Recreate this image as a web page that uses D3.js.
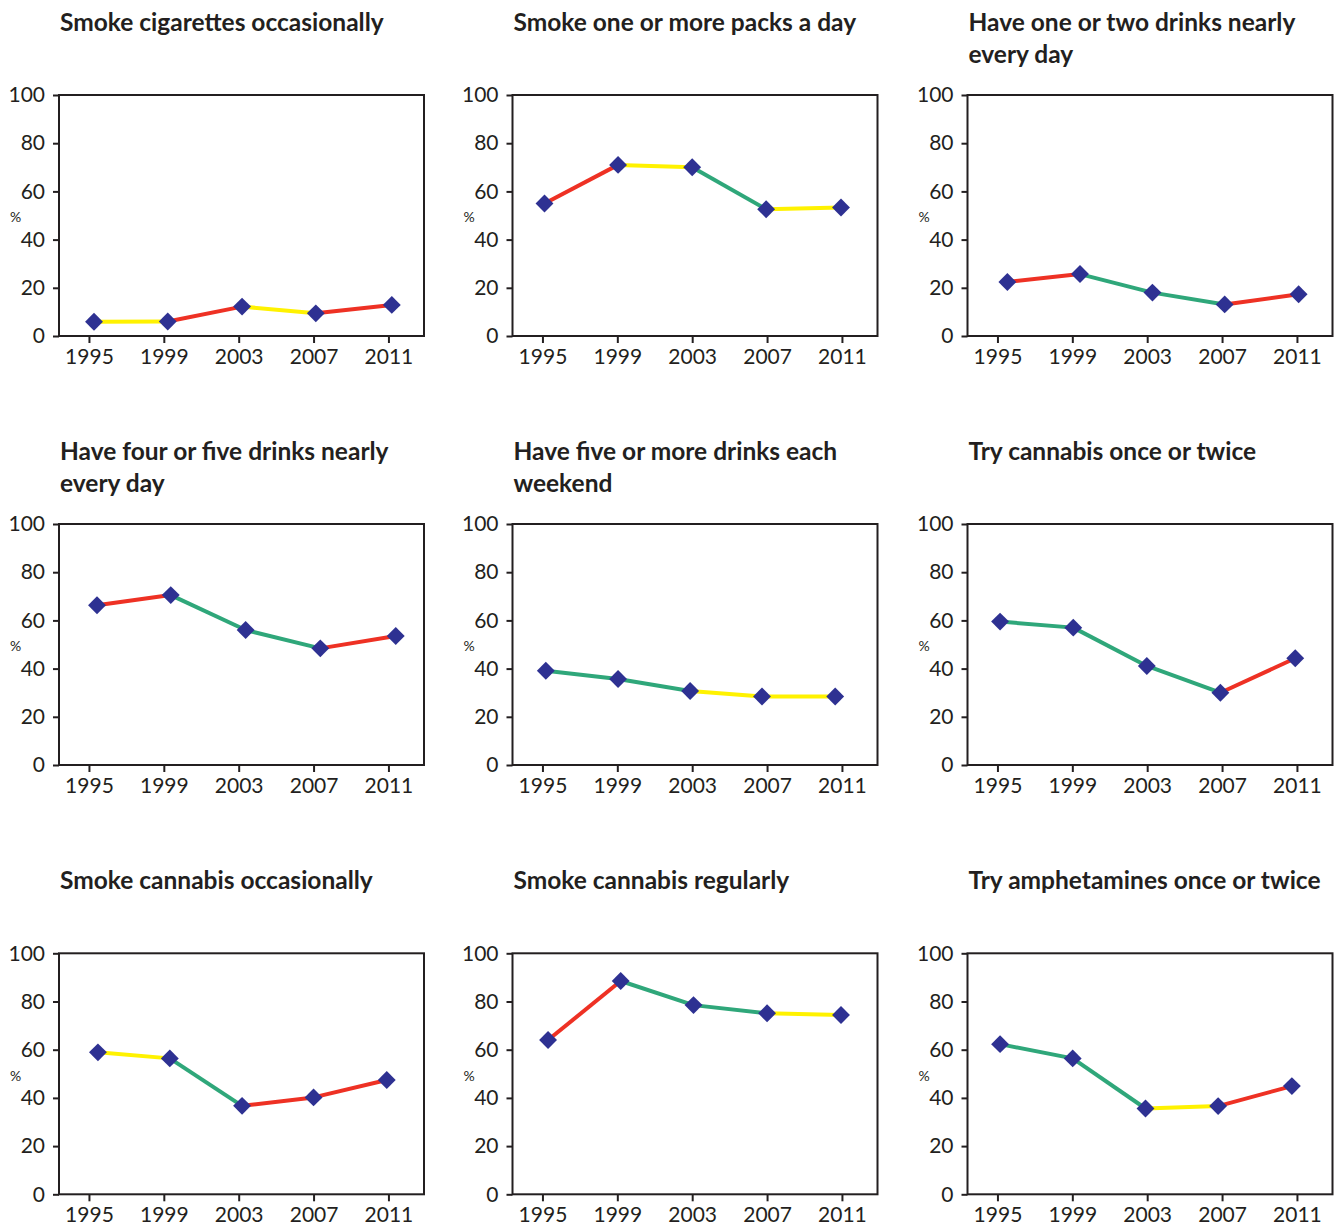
<!DOCTYPE html>
<html><head><meta charset="utf-8">
<script src="https://cdn.jsdelivr.net/npm/d3@7"></script>
<style>body{margin:0;background:#fff}</style>
</head><body><svg id="c" width="1344" height="1224"></svg>
<script>
const years = [1995, 1999, 2003, 2007, 2011];
const yTicks = [0, 20, 40, 60, 80, 100];
const titles = [
  ["Smoke cigarettes occasionally"],
  ["Smoke one or more packs a day"],
  ["Have one or two drinks nearly", "every day"],
  ["Have four or five drinks nearly", "every day"],
  ["Have five or more drinks each", "weekend"],
  ["Try cannabis once or twice"],
  ["Smoke cannabis occasionally"],
  ["Smoke cannabis regularly"],
  ["Try amphetamines once or twice"]
];
const values = [
  [5.9, 6.0, 12.2, 9.4, 12.9],
  [55.0, 71.0, 70.0, 52.6, 53.3],
  [22.4, 25.7, 18.0, 13.1, 17.3],
  [66.3, 70.5, 56.0, 48.4, 53.5],
  [39.1, 35.7, 30.7, 28.4, 28.4],
  [59.5, 57.0, 41.1, 30.0, 44.3],
  [58.9, 56.4, 36.7, 40.2, 47.4],
  [64.0, 88.5, 78.5, 75.1, 74.4],
  [62.3, 56.4, 35.6, 36.6, 44.9]
];
// measured horizontal position of each point, in years
const pointYears = [
  [1995.27, 1999.21, 2003.18, 2007.12, 2011.18],
  [1995.11, 1999.04, 2003.00, 2006.95, 2010.95],
  [1995.53, 1999.41, 2003.28, 2007.14, 2011.09],
  [1995.43, 1999.37, 2003.37, 2007.36, 2011.39],
  [1995.18, 1999.04, 2002.89, 2006.73, 2010.64],
  [1995.14, 1999.05, 2002.98, 2006.91, 2010.91],
  [1995.48, 1999.32, 2003.18, 2007.00, 2010.91],
  [1995.30, 1999.18, 2003.07, 2007.00, 2010.95],
  [1995.14, 1999.02, 2002.91, 2006.79, 2010.73]
];
// r = increase, y = stable, g = decrease
const segmentColors = [
  ["y", "r", "y", "r"],
  ["r", "y", "g", "y"],
  ["r", "g", "g", "r"],
  ["r", "g", "g", "r"],
  ["g", "g", "y", "y"],
  ["g", "g", "g", "r"],
  ["y", "g", "r", "r"],
  ["r", "g", "g", "y"],
  ["g", "g", "y", "r"]
];
const colorMap = {r: "#ee3124", y: "#fff200", g: "#2fa77a"};
const markerColor = "#2e3192";
const textColor = "#231f20";

const svg = d3.select("#c");
const W = 365, H = 241;
const colX = [59, 512.5, 967.5];
const rowY = [95, 524, 953.3];
const x = d3.scaleLinear().domain([1993.4, 2012.9]).range([0, W]);
const y = d3.scaleLinear().domain([0, 100]).range([H, 0]);

titles.forEach((t, i) => {
  const col = i % 3, row = Math.floor(i / 3);
  const g = svg.append("g").attr("transform", `translate(${colX[col]},${rowY[row]})`);
  // title
  const tt = g.append("text").attr("x", 1).attr("y", -64)
    .attr("font-family", "Lato").attr("font-weight", "bold").attr("font-size", 24.5)
    .attr("fill", textColor);
  t.forEach((line, k) => tt.append("tspan").attr("x", 1).attr("dy", k === 0 ? 0 : 32).text(line));

  // axes
  const ya = g.append("g").call(d3.axisLeft(y).tickValues(yTicks).tickSize(6).tickPadding(8));
  const xa = g.append("g").attr("transform", `translate(0,${H})`)
    .call(d3.axisBottom(x).tickValues(years).tickFormat(d3.format("d")).tickSize(7).tickPadding(6));
  [ya, xa].forEach(a => {
    a.select(".domain").remove();
    a.selectAll("line").attr("stroke", textColor).attr("stroke-width", 2);
    a.selectAll("text").attr("font-family", "Lato").attr("font-size", 21).attr("fill", textColor);
  });
  g.append("rect").attr("width", W).attr("height", H)
    .attr("fill", "none").attr("stroke", textColor).attr("stroke-width", 2);

  g.append("text").attr("x", -49).attr("y", y(50) + 2).attr("dy", "0.35em")
    .attr("font-family", "Lato").attr("font-size", 14).attr("fill", textColor).text("%");

  const pts = values[i].map((v, k) => ({x: pointYears[i][k], v}));
  const segs = d3.pairs(pts).map((p, k) => ({a: p[0], b: p[1], c: colorMap[segmentColors[i][k]]}));
  g.selectAll(".seg").data(segs).join("line")
    .attr("x1", d => x(d.a.x)).attr("y1", d => y(d.a.v))
    .attr("x2", d => x(d.b.x)).attr("y2", d => y(d.b.v))
    .attr("stroke", d => d.c).attr("stroke-width", 4);
  g.selectAll(".pt").data(pts).join("path")
    .attr("d", d3.symbol(d3.symbolSquare, 160)())
    .attr("transform", d => `translate(${x(d.x)},${y(d.v)}) rotate(45)`)
    .attr("fill", markerColor);
});
</script>
</body></html>
